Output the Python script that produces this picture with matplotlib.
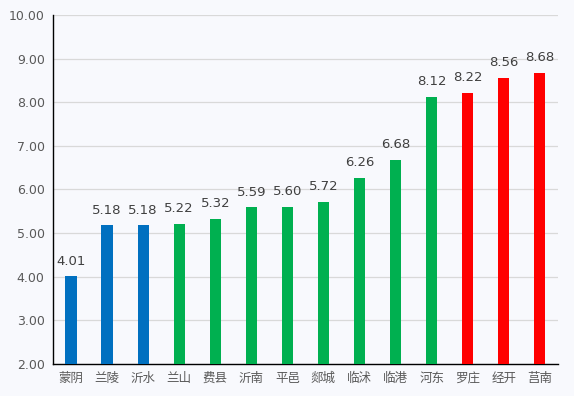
import matplotlib
matplotlib.use("Agg")
import matplotlib.pyplot as plt

plt.rcParams['font.family'] = ['Noto Sans CJK SC', 'DejaVu Sans']

categories = ["蒙阴", "兰陵", "沂水", "兰山", "费县", "沂南", "平邑", "郯城", "临沭", "临港", "河东", "罗庄", "经开", "莒南"]
values = [4.01, 5.18, 5.18, 5.22, 5.32, 5.59, 5.60, 5.72, 6.26, 6.68, 8.12, 8.22, 8.56, 8.68]
groups = ["blue"] * 3 + ["green"] * 8 + ["red"] * 3
palette = {"blue": "#0070c0", "green": "#00b050", "red": "#ff0000"}
y_ticks = [2, 3, 4, 5, 6, 7, 8, 9, 10]

bg = "#f8f9fd"
fig = plt.figure(figsize=(5.74, 3.96), dpi=100, facecolor=bg)
ax = fig.add_axes([0.0923, 0.081, 0.8797, 0.881], facecolor=bg)

x = list(range(len(categories)))
colors = [palette[g] for g in groups]
bars = ax.bar(x, values, width=0.31, color=colors, zorder=3)

for xi, v in zip(x, values):
    ax.text(xi, v + 0.2, f"{v:.2f}", ha="center", va="bottom", fontsize=9.5,
            color="#404040", family=["DejaVu Sans"])

ax.set_ylim(2, 10)
ax.set_xlim(-0.5, len(categories) - 0.5)
ax.set_yticks(y_ticks)
ax.set_yticklabels([f"{t:.2f}" for t in y_ticks], fontsize=9, color="#595959", family=["DejaVu Sans"])
ax.set_xticks(x)
ax.set_xticklabels(categories, fontsize=9, color="#595959")
ax.tick_params(axis="both", length=0, pad=6)
ax.yaxis.grid(True, color="#d9d9d9", linewidth=0.9, zorder=0)
ax.set_axisbelow(True)
for s in ["top", "right"]:
    ax.spines[s].set_visible(False)
ax.spines["left"].set_color("#000000")
ax.spines["bottom"].set_color("#000000")
ax.spines["left"].set_linewidth(1.0)
ax.spines["bottom"].set_linewidth(1.0)

fig.savefig("out.png", dpi=100, facecolor=bg)
